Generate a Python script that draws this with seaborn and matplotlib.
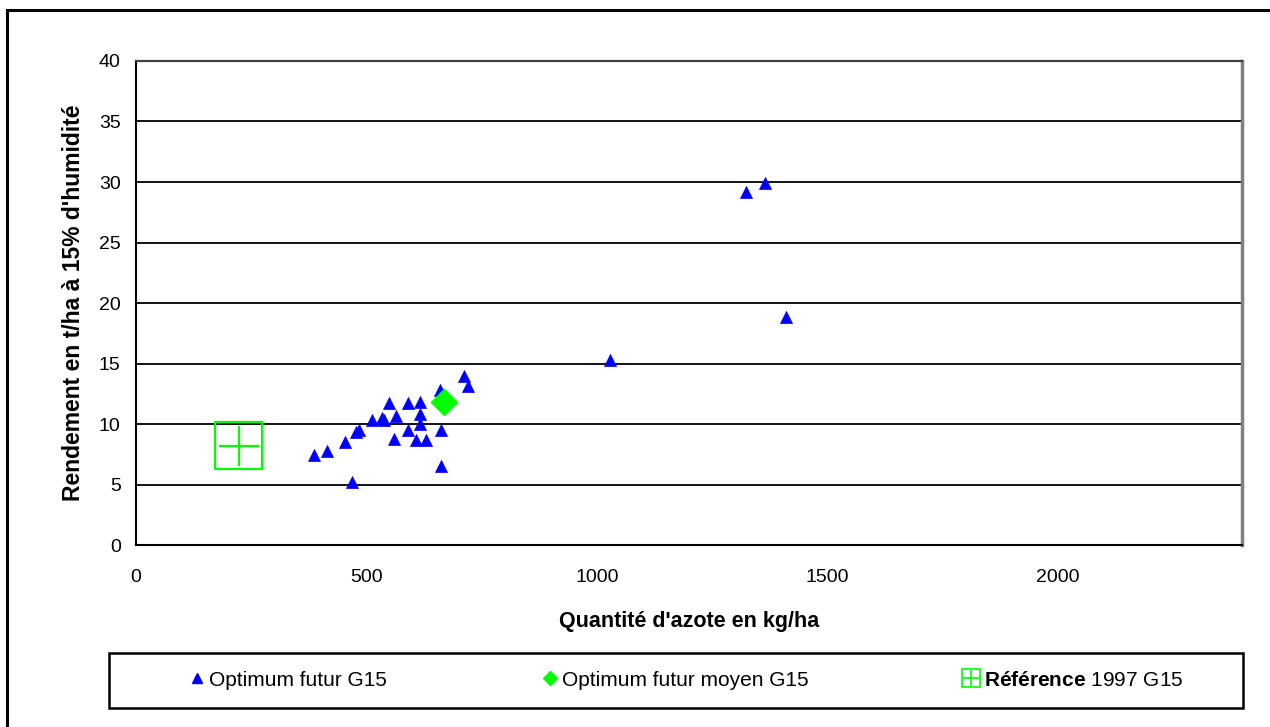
import pandas as pd
import seaborn as sns
import matplotlib.pyplot as plt
from matplotlib.patches import Rectangle

#======================Data======================
azote_futur = [387, 414, 453, 469, 478, 483, 513, 534, 539, 550, 564, 560, 591, 591,
               608, 616, 616, 616, 630, 660, 661, 661, 712, 720, 1028, 1323, 1365, 1410]
rendement_futur = [7.44, 7.77, 8.54, 5.23, 9.36, 9.5, 10.33, 10.5, 10.33, 11.7, 10.66, 8.79, 11.7, 9.48,
                   8.68, 11.85, 10.8, 10.0, 8.68, 12.78, 9.5, 6.53, 13.99, 13.17, 15.3, 29.15, 29.94, 18.87]
azote_moyen = [668]
rendement_moyen = [11.82]
azote_ref = [223]
rendement_ref = [8.2]

labels = ['Optimum futur G15', 'Optimum futur moyen G15', r'$\mathbf{Référence}$ 1997 G15']

futur = pd.DataFrame({'azote': azote_futur, 'rendement': rendement_futur})
moyen = pd.DataFrame({'azote': azote_moyen, 'rendement': rendement_moyen})
ref = pd.DataFrame({'azote': azote_ref, 'rendement': rendement_ref})

sns.set_theme(style="white")
plt.rcParams['font.family'] = ['Liberation Sans', 'DejaVu Sans']
plt.rcParams['mathtext.fontset'] = 'custom'
plt.rcParams['mathtext.rm'] = 'Liberation Sans'
plt.rcParams['mathtext.bf'] = 'Liberation Sans:bold'
for key in ['text.color', 'axes.labelcolor', 'xtick.color', 'ytick.color']:
    plt.rcParams[key] = 'black'

fig = plt.figure(figsize=(12.7, 7.27), dpi=100)
ax = fig.add_axes([0.1071, 0.2503, 0.8709, 0.6658])

# outer chart frame (only top/left visible in the original)
fig.patches.append(Rectangle((7 / 1270, -0.1), 1.2, 1.1 - 10 / 727, transform=fig.transFigure,
                             fill=False, edgecolor='black', linewidth=2.2, zorder=0))

for y in range(5, 40, 5):
    ax.axhline(y, color='black', linewidth=1.3, zorder=1)

sns.scatterplot(data=futur, x='azote', y='rendement', ax=ax, marker='^', s=75,
                color='#0000FF', edgecolor='#0000FF', linewidth=0.5, zorder=3, legend=False)
sns.scatterplot(data=moyen, x='azote', y='rendement', ax=ax, marker='D', s=190,
                color='#00FF00', edgecolor='#00FF00', linewidth=0.5, zorder=4, legend=False)
ax.scatter(ref['azote'], ref['rendement'], marker='s', s=1150, facecolors='none',
           edgecolors='#00FF00', linewidths=1.6, zorder=4)
ax.scatter(ref['azote'], ref['rendement'], marker='+', s=800, color='#00FF00',
           linewidths=1.6, zorder=4)

ax.set_xlim(0, 2400)
ax.set_ylim(0, 40)
ax.set_xticks([0, 500, 1000, 1500, 2000])
ax.set_yticks(range(0, 41, 5))
ax.tick_params(axis='both', labelsize=14, colors='black', direction='out', length=5, width=1.2)
ax.tick_params(axis='y', pad=6)
ax.tick_params(axis='x', pad=12)

for side in ['left', 'bottom']:
    ax.spines[side].set_color('black')
    ax.spines[side].set_linewidth(1.5)
ax.spines['top'].set_color('#404040')
ax.spines['top'].set_linewidth(1.6)
ax.spines['right'].set_color('#808080')
ax.spines['right'].set_linewidth(2.5)

ax.set_xlabel("Quantité d'azote en kg/ha", fontsize=15.5, fontweight='bold', labelpad=18)
ax.set_ylabel("Rendement en t/ha à 15% d'humidité", fontsize=16.5, fontweight='bold', labelpad=10)

# legend
h_futur = plt.Line2D([], [], marker='^', color='#0000FF', linestyle='none', markersize=7)
h_moyen = plt.Line2D([], [], marker='D', color='#00FF00', linestyle='none', markersize=7)
h_ref_box = plt.Line2D([], [], marker='s', markerfacecolor='none', markeredgecolor='#00FF00',
                       linestyle='none', markersize=13, markeredgewidth=1.2)
h_ref_plus = plt.Line2D([], [], marker='+', color='#00FF00', linestyle='none', markersize=12,
                        markeredgewidth=1.2)
fig.legend([h_futur, h_moyen, (h_ref_box, h_ref_plus)], labels, ncol=3, frameon=False,
           loc='center', bbox_to_anchor=(686 / 1270, 1 - 680 / 727), fontsize=15,
           handlelength=0.8, handletextpad=0.2, columnspacing=7.4)
fig.patches.append(Rectangle((109 / 1270, 1 - 708 / 727), (1243 - 109) / 1270, 55 / 727,
                             transform=fig.transFigure, fill=False, edgecolor='black',
                             linewidth=1.8, zorder=0))

plt.savefig('out.png', dpi=100)
